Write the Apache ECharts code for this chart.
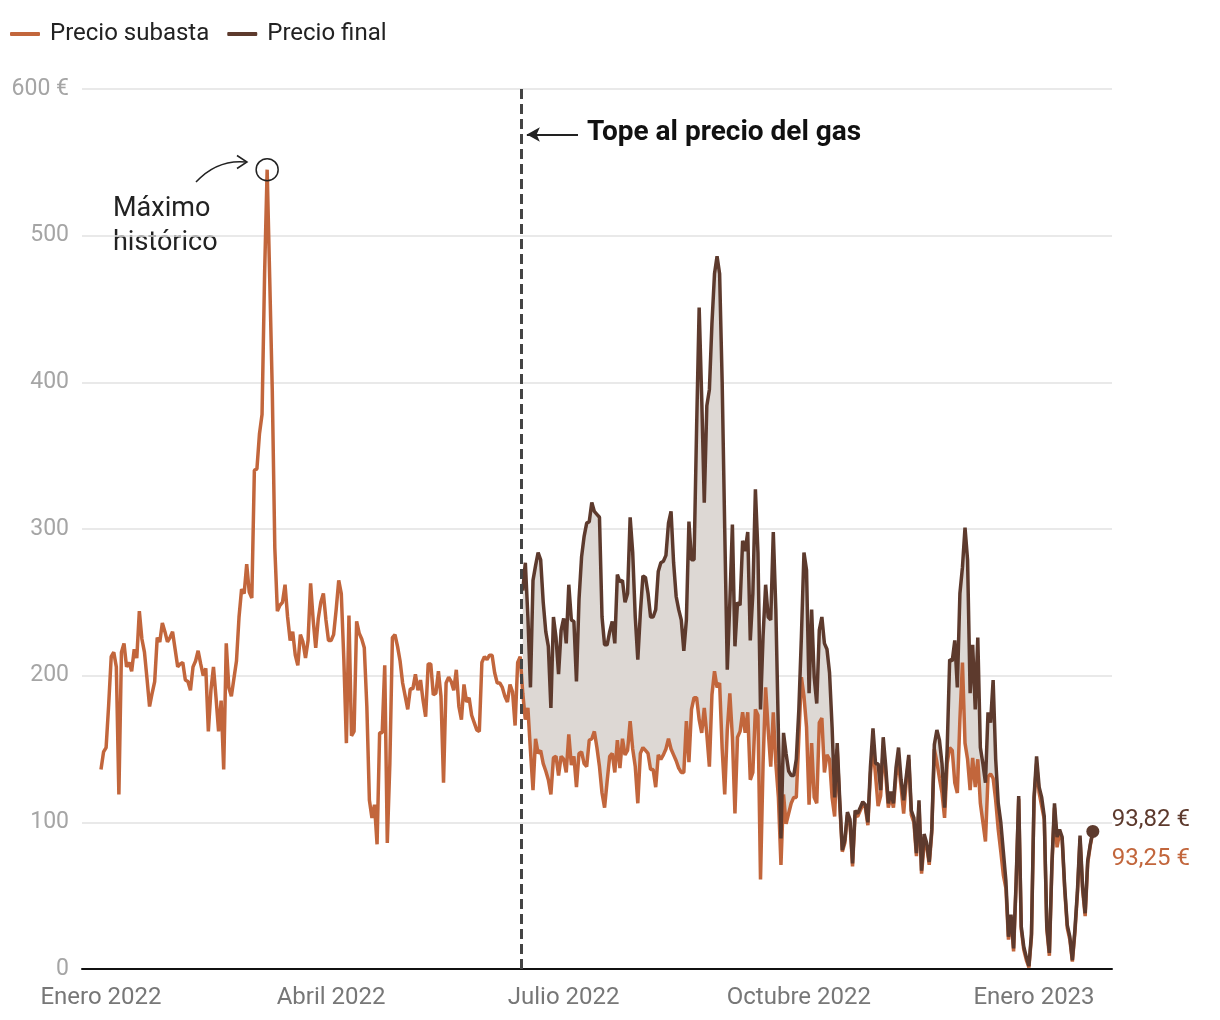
<!DOCTYPE html>
<html>
<head>
<meta charset="utf-8">
<script src="https://cdn.jsdelivr.net/npm/echarts@6/dist/echarts.min.js"></script>
<style>
  html, body { margin: 0; padding: 0; background: #fff; }
  #chart { width: 1220px; height: 1020px; }
</style>
</head>
<body>
<div id="chart"></div>
<script>
// precio diario (€/MWh), un valor por día desde el 1 de enero de 2022
var subasta = [
  136,148,151,180,213,216,206,119,216,222,
  206,209,203,218,212,244,225,216,198,179,
  188,196,226,223,236,230,223,226,230,218,
  206,208,209,197,196,190,206,210,217,208,
  200,205,162,190,206,185,162,183,136,222,
  192,186,198,210,240,259,256,276,257,253,
  340,341,365,378,474,545,471,395,287,244,
  248,250,262,240,224,230,214,207,228,223,
  212,224,263,238,219,239,250,256,238,224,
  224,228,245,265,256,211,154,241,159,162,
  237,229,225,219,179,115,103,112,85,161,
  161,207,86,140,226,228,220,210,195,186,
  177,191,191,201,190,197,183,172,208,208,
  187,188,203,186,127,195,199,196,190,204,
  179,170,194,182,185,173,168,163,162,209,
  213,211,214,214,202,195,195,192,186,182,
  194,189,166,209,213,188,170,178,149,122,
  157,147,149,140,135,129,119,144,145,132,
  145,143,134,160,139,145,124,147,148,140,
  138,156,157,162,151,138,120,110,128,145,
  147,134,156,137,157,146,149,169,150,138,
  113,147,151,149,147,136,136,124,146,143,
  146,150,157,150,146,142,137,134,134,169,
  141,177,185,185,170,161,178,160,138,187,
  203,192,195,150,119,163,188,158,106,158,
  162,175,161,175,129,134,177,173,61,140,
  192,163,138,175,140,117,71,119,99,106,
  113,117,117,158,199,186,165,112,154,117,
  113,168,171,134,146,143,117,104,150,112,
  80,86,105,100,70,105,104,108,112,110,
  98,133,152,132,111,118,150,132,110,118,
  110,132,140,124,106,128,143,105,100,77,
  112,65,85,84,71,93,150,141,130,120,
  103,140,151,149,127,120,170,209,154,143,
  122,144,124,143,113,100,87,131,133,130,
  115,95,80,64,55,20,35,12,58,116,
  27,13,6,1,22,115,140,120,111,102,
  27,9,70,110,83,93,88,54,28,20,
  5,25,52,89,54,36,72,84,93.25
];

// precio final, desde el día 165 (15 de junio de 2022, tope al gas)
var finalStart = 165;
var precioFinal = [
  258,277,240,192,265,275,284,279,250,230,
  220,178,240,226,201,231,239,222,262,238,
  237,196,252,281,295,304,305,318,312,310,
  308,240,221,221,230,237,222,269,264,265,
  250,256,308,284,240,211,243,268,267,256,
  240,240,245,271,277,278,282,304,312,277,
  254,245,238,217,238,305,279,279,369,451,
  389,318,384,395,440,474,486,474,400,300,
  204,250,303,220,250,248,292,285,298,224,
  256,327,284,177,227,262,240,238,298,245,
  161,89,161,147,135,132,132,143,177,227,
  284,272,188,245,199,181,231,240,222,218,
  202,165,117,154,115,81,88,107,102,72,
  108,106,110,114,112,100,138,164,140,140,
  122,158,138,113,121,113,137,151,129,115,
  131,146,108,103,79,115,67,92,86,73,
  95,153,163,156,140,110,149,211,210,224,
  192,256,274,301,279,188,221,177,226,151,
  140,127,175,168,197,143,113,100,80,60,
  22,37,14,60,118,29,15,8,2,24,
  117,145,124,117,104,29,11,72,113,90,
  95,90,56,30,22,6,27,54,91,56,
  38,74,85,93.82
];

var tickDays = [0, 90, 181, 273, 365];
var tickLabels = ['Enero 2022', 'Abril 2022', 'Julio 2022', 'Octubre 2022', 'Enero 2023'];
var capDay = 164.4;

var cSubasta = '#c2663c';
var cFinal = '#5d3a2d';

var subastaData = subasta.map(function (v, i) { return [i, v]; });
var finalData = precioFinal.map(function (v, i) { return [finalStart + i, v]; });
// [día, subasta, final] para rellenar el hueco entre las dos líneas
var fillData = precioFinal.map(function (v, i) { return [finalStart + i, subasta[finalStart + i], v]; });

var peakDay = subasta.indexOf(Math.max.apply(null, subasta));
var lastDay = subasta.length - 1;

function euros(v) { return v.toFixed(2).replace('.', ',') + ' €'; }

var chart = echarts.init(document.getElementById('chart'));

var option = {
  animation: false,
  textStyle: { fontFamily: 'Roboto' },
  legend: {
    data: ['Precio subasta', 'Precio final'],
    left: 10, top: 22, padding: 0,
    icon: 'roundRect',
    itemWidth: 30, itemHeight: 4, itemGap: 18,
    textStyle: { fontSize: 24, color: '#222', padding: [0, 0, 0, 5] }
  },
  grid: { left: 82, right: 108, top: 89, bottom: 51 },
  xAxis: {
    type: 'value',
    min: -7.43, max: 395.5,
    axisLine: { lineStyle: { color: '#111', width: 2 } },
    axisTick: { show: false },
    splitLine: { show: false },
    axisLabel: {
      customValues: tickDays,
      color: '#777', fontSize: 24, margin: 17,
      formatter: function (v) { return tickLabels[tickDays.indexOf(v)]; }
    }
  },
  yAxis: {
    type: 'value',
    min: 0, max: 600, interval: 100,
    axisLine: { show: false },
    axisTick: { show: false },
    splitLine: { lineStyle: { color: '#e2e2e2', width: 1.5 } },
    axisLabel: {
      color: '#a5a5a5', fontSize: 23, margin: 13, padding: [4, 0, 0, 0],
      formatter: function (v) { return v === 600 ? '600 €' : v; }
    }
  },
  series: [
    {
      name: 'hueco', type: 'custom', data: fillData, silent: true, z: 1,
      encode: { x: 0, y: [1, 2] },
      renderItem: function (params, api) {
        if (params.dataIndex !== 0) return;
        var top = fillData.map(function (d) { return api.coord([d[0], d[2]]); });
        var bottom = fillData.slice().reverse().map(function (d) { return api.coord([d[0], d[1]]); });
        return {
          type: 'polygon',
          shape: { points: top.concat(bottom) },
          style: { fill: '#ddd8d4' }
        };
      }
    },
    {
      name: 'Precio subasta', type: 'line', data: subastaData,
      showSymbol: false, color: cSubasta,
      lineStyle: { color: cSubasta, width: 3.5 },
      endLabel: {
        show: true, distance: 0, offset: [19, 27],
        color: cSubasta, fontSize: 24,
        formatter: function (p) { return euros(p.value[1]); }
      },
      markLine: {
        silent: true, symbol: 'none',
        label: { show: false },
        data: [
          { xAxis: capDay, lineStyle: { color: '#444', width: 3, type: [10, 5] } },
          [
            { coord: [186.6, 569], symbol: 'none' },
            { coord: [166.6, 569], symbol: 'arrow', symbolSize: [11, 13],
              lineStyle: { color: '#222', width: 2, type: 'solid' } }
          ]
        ]
      },
      markPoint: {
        silent: true,
        data: [{
          coord: [peakDay, subasta[peakDay]],
          symbol: 'circle', symbolSize: 22,
          itemStyle: { color: 'rgba(0,0,0,0)', borderColor: '#222', borderWidth: 1.5 },
          label: { show: false }
        }]
      },
      z: 3
    },
    {
      name: 'Precio final', type: 'line', data: finalData,
      showSymbol: false, color: cFinal,
      lineStyle: { color: cFinal, width: 3.5 },
      endLabel: {
        show: true, distance: 0, offset: [19, -11],
        color: cFinal, fontSize: 24,
        formatter: function (p) { return euros(p.value[1]); }
      },
      markPoint: {
        silent: true,
        data: [{
          coord: [lastDay, precioFinal[precioFinal.length - 1]],
          symbol: 'circle', symbolSize: 13,
          itemStyle: { color: cFinal },
          label: { show: false }
        }]
      },
      z: 4
    }
  ],
  graphic: [
    {
      type: 'text', left: 587, top: 119,
      style: { text: 'Tope al precio del gas', font: 'bold 28px Roboto', fill: '#111' }
    },
    {
      type: 'text', left: 113, top: 192,
      style: { text: 'Máximo\nhistórico', font: '27px Roboto', lineHeight: 34, fill: '#222' }
    },
    {
      type: 'bezierCurve',
      shape: { x1: 196, y1: 182, cpx1: 210, cpy1: 167, cpx2: 226, cpy2: 160, x2: 246, y2: 162 },
      style: { stroke: '#222', lineWidth: 1.5, fill: null }
    },
    {
      type: 'polyline',
      shape: { points: [[237, 155.5], [247, 162], [237, 168.5]] },
      style: { stroke: '#222', lineWidth: 1.5, fill: null }
    }
  ]
};

chart.setOption(option);
</script>
</body>
</html>
